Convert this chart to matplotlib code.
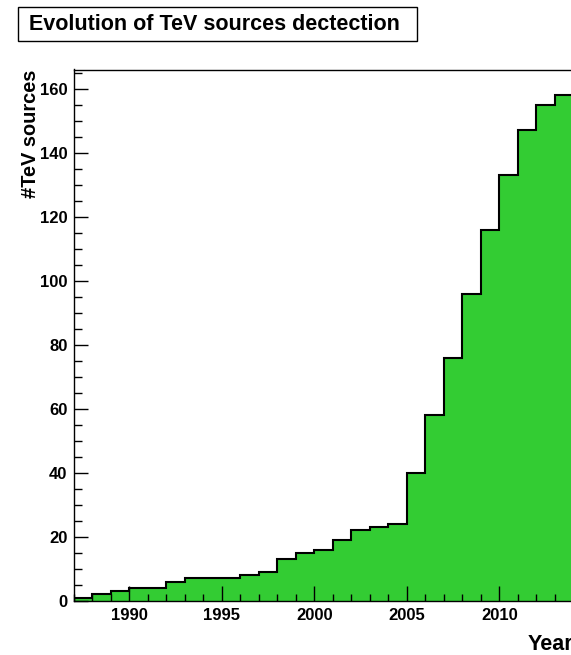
import matplotlib
matplotlib.use("Agg")
import matplotlib.pyplot as plt
from matplotlib.patches import Rectangle
from matplotlib.ticker import MultipleLocator

plt.rcParams["font.family"] = ["Liberation Sans", "DejaVu Sans"]
plt.rcParams["font.weight"] = "bold"

# bin edges (year) and cumulative number of TeV sources per bin
years = [1987, 1988, 1989, 1990, 1991, 1992, 1993, 1994, 1995, 1996,
         1997, 1998, 1999, 2000, 2001, 2002, 2003, 2004, 2005, 2006,
         2007, 2008, 2009, 2010, 2011, 2012, 2013, 2014]
n_sources = [1, 2, 3, 4, 4, 6, 7, 7, 7, 8,
             9, 13, 15, 16, 19, 22, 23, 24, 40, 58,
             76, 96, 116, 133, 147, 155, 158]

title = "Evolution of TeV sources dectection"
x_title = "Year"
y_title = "#TeV sources"

W, H = 571, 655
fig = plt.figure(figsize=(W / 100, H / 100), dpi=100)

# axes extends slightly past the right edge of the canvas, like the original
left, right, bottom, top = 73.8, 573.3, 600.7, 69.5
ax = fig.add_axes([left / W, (H - bottom) / H, (right - left) / W, (bottom - top) / H])

ax.stairs(n_sources, years, fill=True, color="#33cc33", zorder=1)
ax.stairs(n_sources, years, color="black", linewidth=1.5, zorder=2)

ax.set_xlim(years[0], years[-1])
ax.set_ylim(0, 166)

ax.xaxis.set_major_locator(MultipleLocator(5))
ax.xaxis.set_minor_locator(MultipleLocator(1))
ax.yaxis.set_major_locator(MultipleLocator(20))
ax.yaxis.set_minor_locator(MultipleLocator(5))
ax.tick_params(which="both", direction="in", top=False, right=False,
               width=1.0, labelsize=12, zorder=5)
ax.tick_params(axis="x", which="major", length=10.8, pad=5)
ax.tick_params(axis="y", which="major", length=10.2, pad=4.5)
ax.tick_params(which="minor", length=5.4)
for lab in ax.get_xticklabels() + ax.get_yticklabels():
    lab.set_fontweight("bold")
for side in ("left", "bottom", "top"):
    ax.spines[side].set_linewidth(1.0)
ax.spines["right"].set_visible(False)
ax.set_axisbelow(False)

fig.text(right / W, 1 - 650 / H, x_title, ha="right", va="baseline",
         fontsize=15.5, fontweight="bold")
fig.text(30 / W, 1 - 70 / H, y_title, rotation=90, ha="center", va="top",
         fontsize=14.4, fontweight="bold")

# title box
fig.patches.append(Rectangle((18 / W, 1 - 40.7 / H), (417 - 18) / W, 33.7 / H,
                             transform=fig.transFigure, facecolor="white",
                             edgecolor="black", linewidth=1.0))
fig.text(29 / W, 1 - 24 / H, title, ha="left", va="center",
         fontsize=15.5, fontweight="bold")

fig.savefig("out.png", dpi=100)
